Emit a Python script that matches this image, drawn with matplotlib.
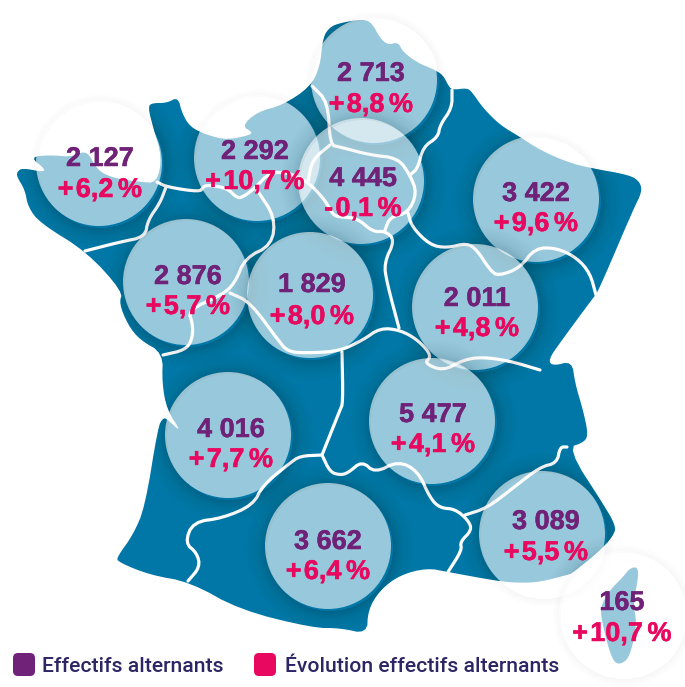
import matplotlib
matplotlib.use("Agg")
import matplotlib.pyplot as plt
from matplotlib.patches import Circle, Polygon, Wedge, FancyBboxPatch
import matplotlib.patheffects as pe
import numpy as np

# ---- data
regions = ["Hauts-de-France", "Normandie", "Bretagne", "Île-de-France", "Grand Est",
           "Pays de la Loire", "Centre-Val de Loire", "Bourgogne-Franche-Comté",
           "Nouvelle-Aquitaine", "Auvergne-Rhône-Alpes", "Occitanie", "PACA", "Outre-mer"]
effectifs = [2713, 2292, 2127, 4445, 3422, 2876, 1829, 2011, 4016, 5477, 3662, 3089, 165]
evolution = [8.8, 10.7, 6.2, -0.1, 9.6, 5.7, 8.0, 4.8, 7.7, 4.1, 6.4, 5.5, 10.7]
legend_labels = ["Effectifs alternants", "Évolution effectifs alternants"]

# ---- layout (pixel space of the picture)
centres = [(374, 80), (257, 158), (99, 163), (361, 181), (536, 199), (186, 282), (310, 295),
           (475, 307), (228, 435), (432, 421), (328, 546), (542, 534), (622, 614)]
label_x = [371, 255, 100, 363, 536, 188, 312, 477, 231, 433, 328, 546, 622]
label_top = [74, 152, 159, 179, 194, 277, 285, 299, 430, 415, 542, 522, 603]
label_bottom = [105, 182, 190, 209, 224, 307, 317, 329, 460, 445, 572, 553, 634]
RADIUS = 63
MAP = "#0077A6"; PURPLE = "#6F2277"; PINK = "#E8085F"; NAVY = "#2C2664"

outline = [(340,23),(363,19),(372,23),(380,38),(388,45),(398,42),(403,52),(418,63),(433,69),(443,75),
 (448,85),(452,90),(467,88),(472,92),(483,108),(500,125),(520,137),(540,150),(567,162),(590,168),
 (630,175),(640,182),(642,192),(633,210),(598,292),(593,298),(562,340),(548,360),(553,366),(572,361),
 (575,383),(583,410),(588,433),(585,442),(567,448),(607,510),(615,525),(615,533),(603,548),(573,573),
 (567,575),(540,582),(520,583),(497,581),(448,572),(427,568),(400,575),(380,590),(368,610),(367,634),
 (340,628),(313,628),(240,610),(190,582),(150,575),(118,562),(117,557),(133,535),(145,507),(158,427),
 (163,418),(167,419),(182,433),(167,410),(162,383),(163,353),(140,340),(128,325),(119,303),(123,292),
 (87,252),(40,223),(28,207),(25,190),(17,177),(17,172),(22,168),(43,172),(45,169),(30,157),(50,155),
 (72,157),(87,150),(97,170),(113,178),(140,182),(157,183),(162,157),(153,127),(148,107),(152,103),
 (167,103),(178,97),(182,113),(190,127),(207,135),(227,140),(250,135),(252,132),(242,126),(257,112),
 (283,105),(310,87),(320,67),(323,37),(330,27)]

island = [(630,568),(638,567),(638,580),(633,603),(637,623),(630,657),(620,665),(612,660),(603,627),
          (600,607),(610,590),(623,577)]

borders = [
 [(157,182),(167,187),(200,192),(203,187),(208,185),(227,188),(237,198),(243,197),(255,188),(270,172),
  (290,173),(308,182),(325,200),(333,215),(340,217),(357,218),(373,232),(385,231),(395,240),(384,263),
  (387,283),(399,328)],
 [(166,187),(160,203),(148,220),(145,237),(120,242),(85,251)],
 [(257,190),(275,217),(272,245),(245,258),(235,283),(222,295),(188,310),(193,325),(192,340),(185,350),(163,355)],
 [(230,293),(250,302),(278,340),(288,352),(310,353),(340,351),(363,340),(380,328),(400,330),(418,340),
  (432,356),(424,363),(443,371),(463,360),(482,357),(510,361),(540,370)],
 [(342,352),(343,403),(340,410),(322,455)],
 [(322,455),(330,472),(340,475),(348,473),(362,461),(375,473),(398,461),(418,471),(430,498),(440,508),
  (455,509),(468,520),(472,530),(460,542),(462,550),(448,572)],
 [(465,515),(487,508),(513,488),(540,467),(557,463),(560,447),(567,447)],
 [(322,455),(300,456),(290,463),(263,485),(253,505),(223,518),(193,522),(185,543),(197,553),(200,567),(188,581)],
 [(312,86),(328,102),(330,145),(340,147),(370,155),(398,158),(410,175),(417,193),(408,213),(390,217),(385,230)],
 [(330,145),(312,160),(308,182)],
 [(452,90),(452,108),(440,125),(438,137),(423,147),(418,168),(410,175)],
 [(408,213),(412,227),(430,245),(447,248),(467,243),(477,250),(490,270),(498,276),(520,268),(535,248),
  (557,248),(577,258),(590,273),(596,295)],
]


def smooth(points, closed, passes=2):
    pts = np.asarray(points, float)
    for _ in range(passes):
        nxt = np.roll(pts, -1, axis=0) if closed else pts[1:]
        cur = pts if closed else pts[:-1]
        q = 0.75 * cur + 0.25 * nxt
        r = 0.25 * cur + 0.75 * nxt
        out = np.empty((2 * len(cur), 2))
        out[0::2], out[1::2] = q, r
        pts = out if closed else np.vstack([points[0], out, points[-1]])
    return pts


def big(v):
    return f"{v:,}".replace(",", " ")


def pct(v):
    sign = "+" if v >= 0 else "-"
    return f"{sign}\u200a{abs(v):.1f}\u200a\u200a%".replace(".", ",")


fig = plt.figure(figsize=(6.85, 6.87), dpi=100)
ax = fig.add_axes([0, 0, 1, 1])
ax.set_xlim(0, 685); ax.set_ylim(687, 0); ax.axis("off")

land = Polygon(smooth(outline, True), closed=True, fc=MAP, ec="none", zorder=1)
ax.add_patch(land)
ax.add_patch(Polygon(smooth(island, True), closed=True, fc=MAP, ec="none", zorder=1))
for b in borders:
    p = smooth(b, False)
    ax.plot(p[:, 0], p[:, 1], color="white", lw=2.3, solid_capstyle="round",
            solid_joinstyle="round", zorder=2)

for i, (cx, cy) in enumerate(centres):
    z = 3 + i * 0.01
    for k in range(1, 9):
        ax.add_patch(Wedge((cx + 2, cy + 2), RADIUS + k, 0, 360, width=k, fc="black",
                           ec="none", alpha=0.005, zorder=z))
    for k in range(2, 21, 2):
        on_land = Wedge((cx + 2, cy + 2), RADIUS + k, 0, 360, width=k, fc="black",
                        ec="none", alpha=0.008, zorder=z)
        ax.add_patch(on_land)
        on_land.set_clip_path(land)
    ax.add_patch(Circle((cx, cy), RADIUS, fc="white", ec="none", alpha=0.6, zorder=z + 0.001))

text_font = ["Liberation Sans", "DejaVu Sans"]
for x, yt, yb, n, e in zip(label_x, label_top, label_bottom, effectifs, evolution):
    t1 = ax.text(x, yt, big(n), color=PURPLE, fontsize=19.5, fontweight="bold", family=text_font,
                 ha="center", va="center", zorder=6)
    t2 = ax.text(x, yb, pct(e), color=PINK, fontsize=19.5, fontweight="bold", family=text_font,
                 ha="center", va="center", zorder=6)
    t1.set_path_effects([pe.Stroke(linewidth=0.35, foreground=PURPLE), pe.Normal()])
    t2.set_path_effects([pe.Stroke(linewidth=0.35, foreground=PINK), pe.Normal()])

for x, col, lab, tx in [(13, PURPLE, legend_labels[0], 42), (254, PINK, legend_labels[1], 285)]:
    ax.add_patch(FancyBboxPatch((x + 3, 656), 16, 17, boxstyle="round,pad=3,rounding_size=5",
                                fc=col, ec="none", zorder=6))
    ax.text(tx, 667, lab, color=NAVY, fontsize=15.2, fontweight="medium", family=["Roboto", "DejaVu Sans"],
            ha="left", va="center", zorder=6)

fig.savefig("out.png", dpi=100)
